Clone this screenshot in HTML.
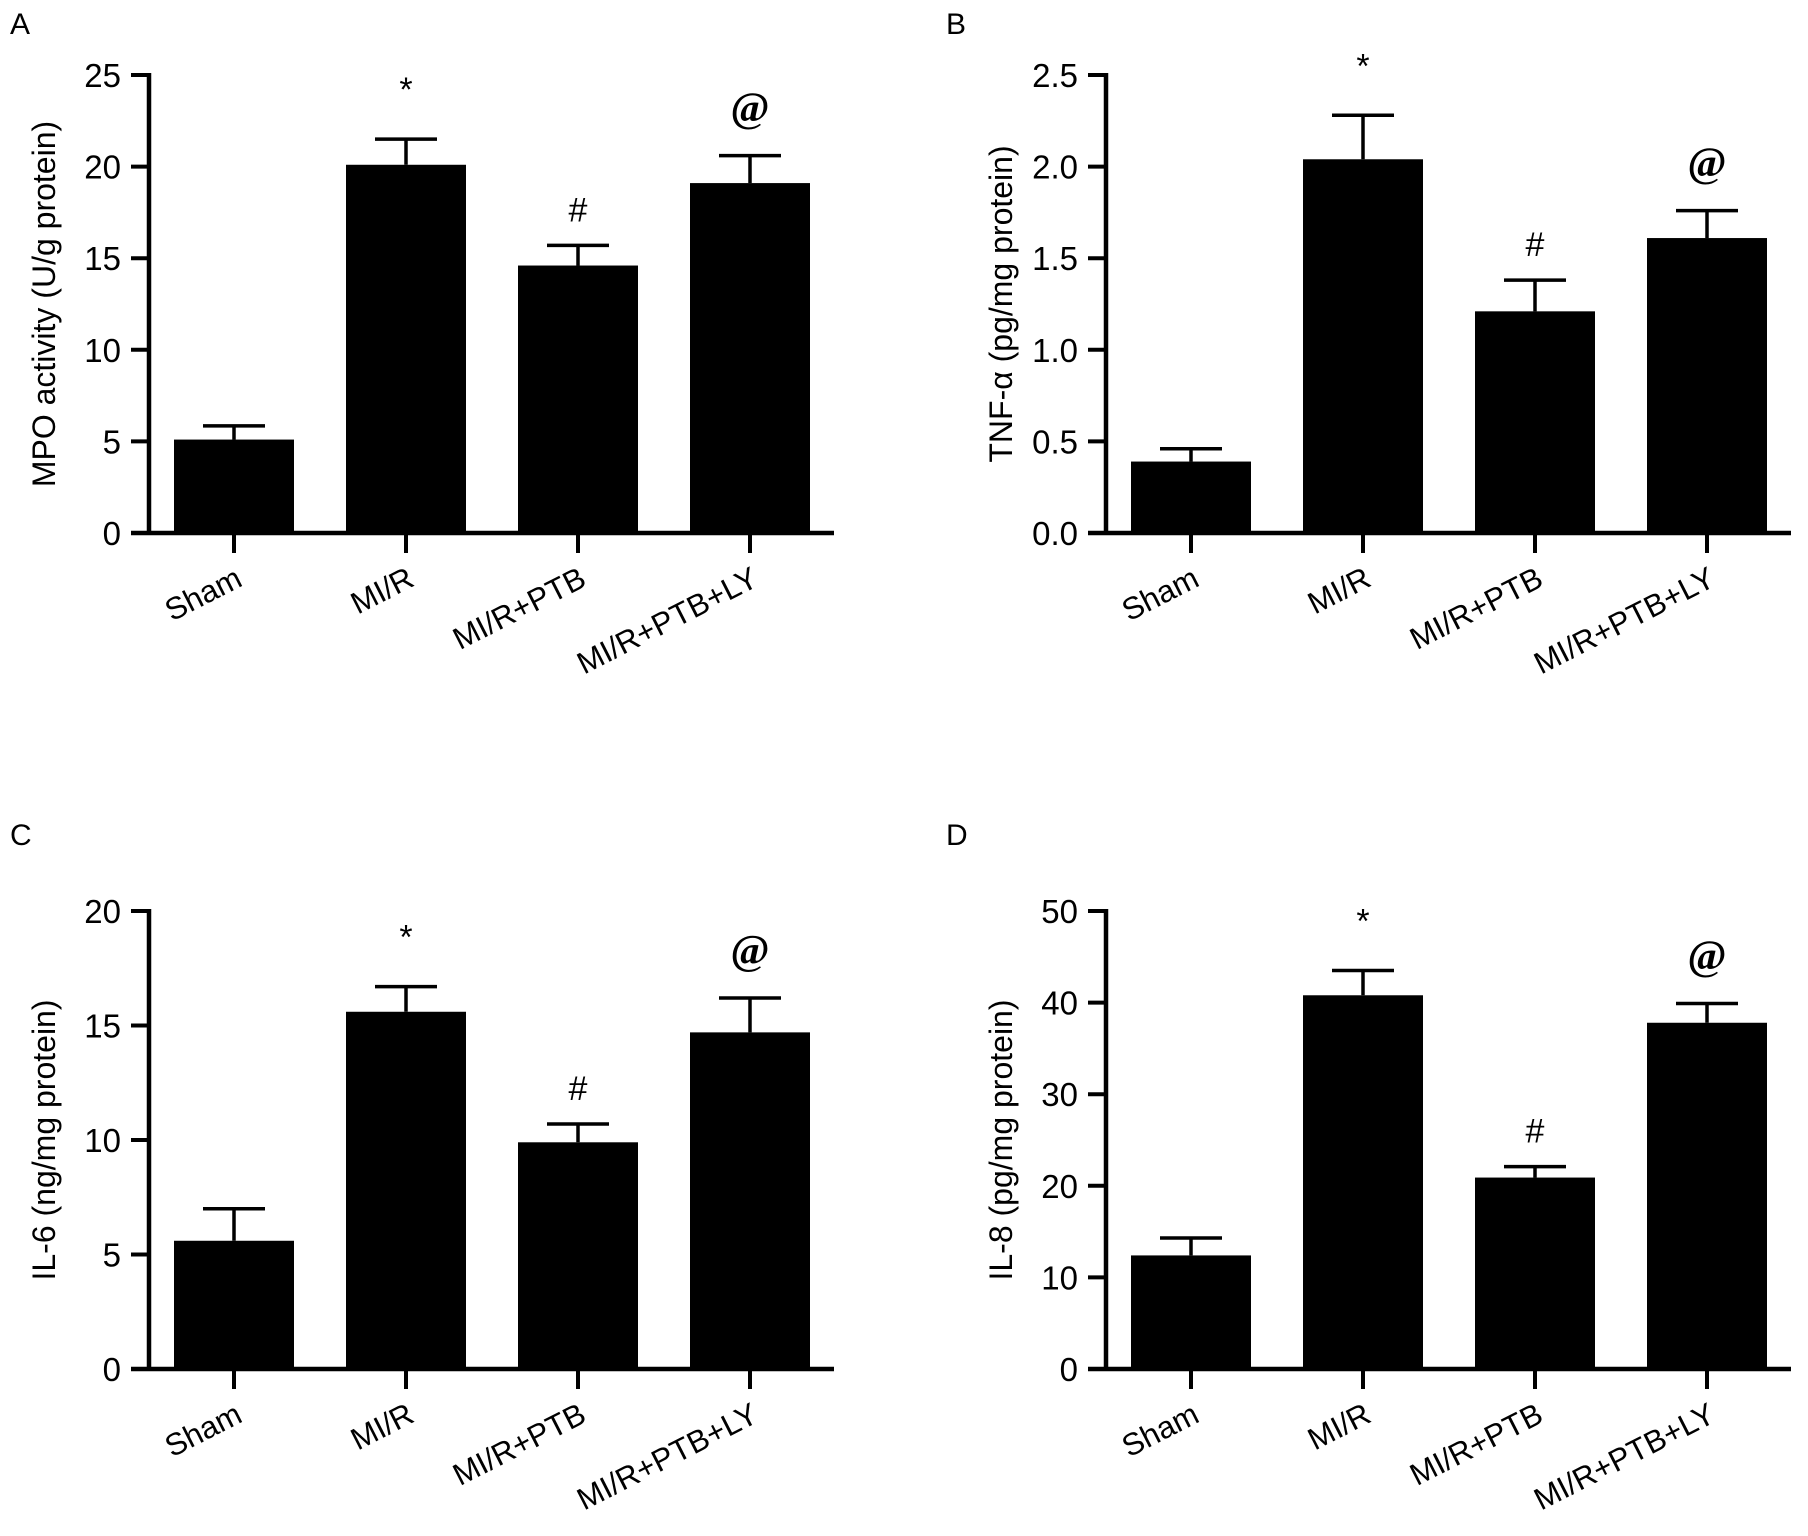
<!DOCTYPE html>
<html><head><meta charset="utf-8"><style>
html,body{margin:0;padding:0;background:#fff;}
svg{display:block;font-family:"Liberation Sans",Arial,sans-serif;}
</style></head><body>
<svg id="fig" width="1808" height="1536" viewBox="0 0 1808 1536"></svg>
<script>
const categories = ["Sham","MI/R","MI/R+PTB","MI/R+PTB+LY"];
const mpoValues = [5.1,20.1,14.6,19.1];
const mpoErrors = [5.85,21.5,15.7,20.6];
const mpoTicks = ["0","5","10","15","20","25"];
const tnfValues = [0.39,2.04,1.21,1.61];
const tnfErrors = [0.46,2.28,1.38,1.76];
const tnfTicks = ["0.0","0.5","1.0","1.5","2.0","2.5"];
const il6Values = [5.6,15.6,9.9,14.7];
const il6Errors = [7.0,16.7,10.7,16.2];
const il6Ticks = ["0","5","10","15","20"];
const il8Values = [12.4,40.8,20.9,37.8];
const il8Errors = [14.3,43.5,22.1,39.9];
const il8Ticks = ["0","10","20","30","40","50"];
const marks = ["","*","#","@"];

const NS="http://www.w3.org/2000/svg";
const svg=document.getElementById('fig');
function mk(tag,attrs,parent){const e=document.createElementNS(NS,tag);for(const k in attrs)e.setAttribute(k,attrs[k]);(parent||svg).appendChild(e);return e;}

function panel(id,letter,lx,ly,ox,oy,ymax,ticks,vals,errs,ytitle){
  const g=mk('g',{});
  
  
  const H=458;
  const top=oy-H;
  const y=v=>oy-(v/ymax)*H;
  const cx=i=>ox+85+i*172;
  const L=mk('text',{x:lx,y:ly,'font-size':30},g);L.textContent=letter;
  
  
  vals.forEach((v,i)=>{
    const b=mk('rect',{x:cx(i)-60,y:y(v),width:120,height:oy-y(v),fill:'#000'},g);
    
    
    const e=mk('path',{d:`M${cx(i)} ${y(v)}V${y(errs[i])}M${cx(i)-31} ${y(errs[i])}H${cx(i)+31}`,stroke:'#000','stroke-width':3.5,fill:'none'},g);
    
    
    if(marks[i]){
      const isAt=marks[i]=='@';
      const m=mk('text',{x:cx(i),y:y(errs[i])-(isAt?34:marks[i]=='#'?24:38),'text-anchor':'middle','font-size':isAt?42:34,'font-weight':isAt?'bold':'normal','font-family':isAt?'"Liberation Serif",serif':'"Liberation Sans",sans-serif'},g);
      m.textContent=marks[i];
      
      
    }
    const t=mk('line',{x1:cx(i),x2:cx(i),y1:oy,y2:oy+20,stroke:'#000','stroke-width':4},g);
    
    
    const tl=mk('text',{x:0,y:0,'text-anchor':'end','font-size':31,transform:`translate(${cx(i)+10},${oy+52}) rotate(-27)`},g);
    tl.textContent=categories[i];
    
    
  });
  const ax=mk('path',{d:`M${ox} ${top-2}V${oy}M${ox-18} ${oy}H${ox+685}`,stroke:'#000','stroke-width':4.5,fill:'none'},g);
  
  
  const step=ymax/(ticks.length-1);
  ticks.forEach((t,k)=>{
    const ty=y(k*step);
    const tk=mk('line',{x1:ox-18,x2:ox,y1:ty,y2:ty,stroke:'#000','stroke-width':4},g);
    
    
    const tt=mk('text',{x:ox-28,y:ty+12,'text-anchor':'end','font-size':33},g);
    tt.textContent=t;
    
    
  });
  const yt=mk('text',{x:0,y:0,'text-anchor':'middle','font-size':32,transform:`translate(${ox-94},${(top+oy)/2}) rotate(-90)`},g);
  yt.textContent=ytitle;
  
  
}
panel('a','A',10,34,149,533,25,mpoTicks,mpoValues,mpoErrors,'MPO activity (U/g protein)');
panel('b','B',946,34,1106,533,2.5,tnfTicks,tnfValues,tnfErrors,'TNF-α (pg/mg protein)');
panel('c','C',10,845,149,1369,20,il6Ticks,il6Values,il6Errors,'IL-6 (ng/mg protein)');
panel('d','D',946,845,1106,1369,50,il8Ticks,il8Values,il8Errors,'IL-8 (pg/mg protein)');
</script>
</body></html>
